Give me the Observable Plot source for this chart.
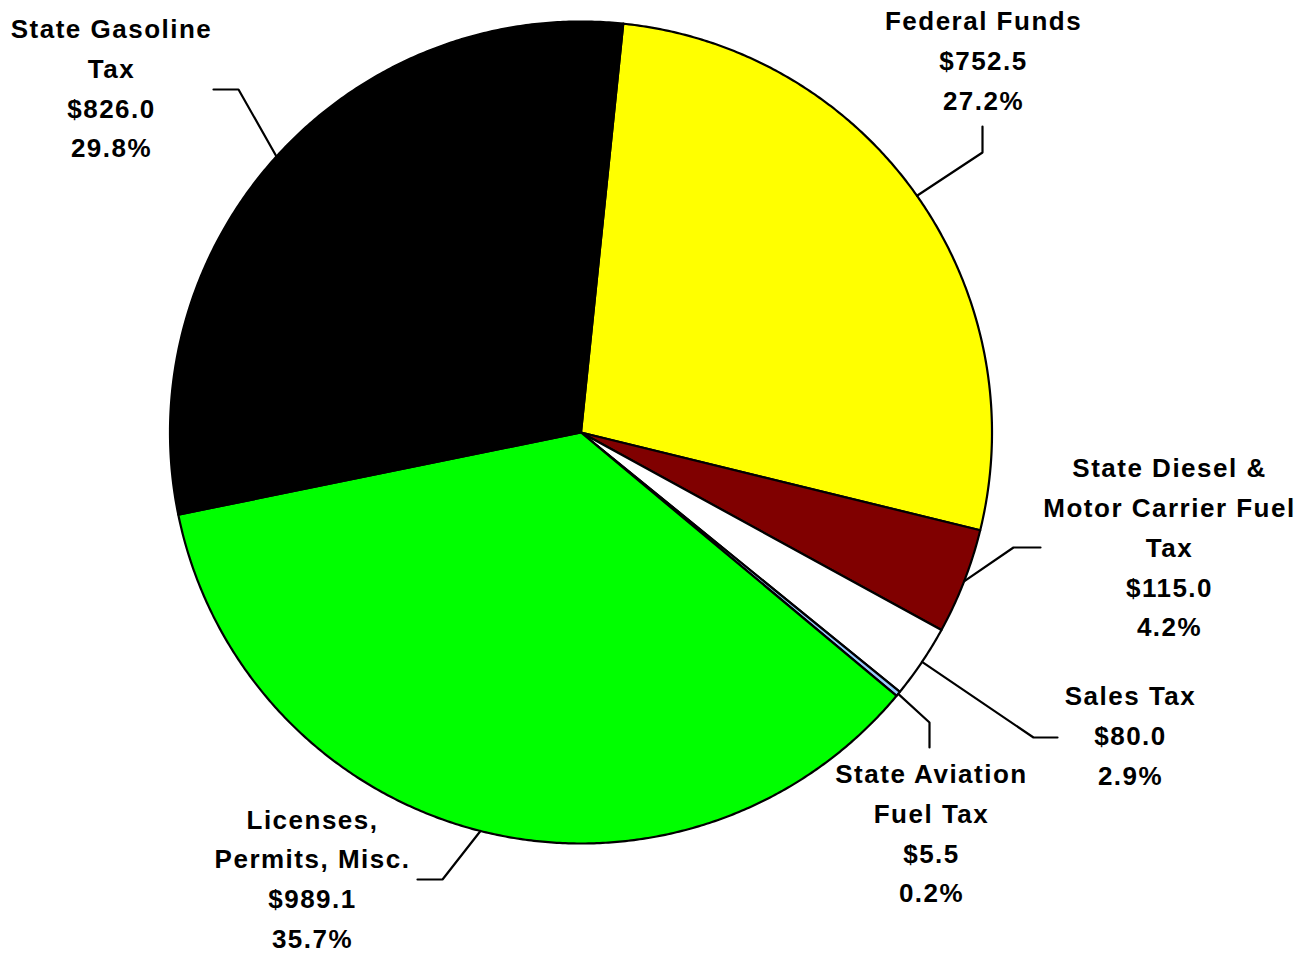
<!DOCTYPE html>
<html><head><meta charset="utf-8">
<script src="https://cdn.jsdelivr.net/npm/d3@7"></script>
<script src="https://cdn.jsdelivr.net/npm/@observablehq/plot@0.6"></script>
<style>
body{margin:0;background:#fff}
#chart svg text{letter-spacing:1.5px}
</style>
</head><body><div id="chart"></div>
<script>
// ---- data ----
const categories = ["Federal Funds", "State Diesel &\nMotor Carrier Fuel\nTax", "Sales Tax", "State Aviation\nFuel Tax", "Licenses,\nPermits, Misc.", "State Gasoline\nTax"];
const values = [752.5, 115.0, 80.0, 5.5, 989.1, 826.0];
const percents = ["27.2%", "4.2%", "2.9%", "0.2%", "35.7%", "29.8%"];
const colors = ["#FFFF00", "#800000", "#FFFFFF", "#99CCFF", "#00FF00", "#000000"];

// ---- layout ----
const W = 1309, H = 954;
const cx = 580.5, cy = 432, R = 411;
const startDeg = 5.9;
// label layout: text block centre, leader elbow, leader end
const labelLayout = [
  {tx: 983,  ty: 56.5,  elbow: [982, 152],  end: [982, 126]},
  {tx: 1169, ty: 543.5, elbow: [1013, 547], end: [1040, 547]},
  {tx: 1130, ty: 732,   elbow: [1033, 737], end: [1057, 737]},
  {tx: 931,  ty: 829.5, elbow: [929, 722],  end: [929, 747]},
  {tx: 312,  ty: 875,   elbow: [442, 879],  end: [417, 879]},
  {tx: 111,  ty: 84.5,  elbow: [238, 89],   end: [213, 89]}
];

const arcs = d3.pie().sort(null).startAngle(startDeg * Math.PI / 180)
  .endAngle(startDeg * Math.PI / 180 + 2 * Math.PI)(values);

const pt = (a, r) => [cx + r * Math.sin(a), cy - r * Math.cos(a)];

const slicePts = [];
arcs.forEach((a, i) => {
  const n = Math.max(2, Math.ceil((a.endAngle - a.startAngle) / (0.4 * Math.PI / 180)));
  slicePts.push({id: i, x: cx, y: cy, fill: colors[i]});
  for (let k = 0; k <= n; k++) {
    const t = a.startAngle + (a.endAngle - a.startAngle) * k / n;
    const [x, y] = pt(t, R);
    slicePts.push({id: i, x, y, fill: colors[i]});
  }
  slicePts.push({id: i, x: cx, y: cy, fill: colors[i]});
});

const leaderPts = [];
arcs.forEach((a, i) => {
  const mid = (a.startAngle + a.endAngle) / 2;
  const [x0, y0] = pt(mid, R);
  const L = labelLayout[i];
  leaderPts.push({id: i, x: x0, y: y0});
  leaderPts.push({id: i, x: L.elbow[0], y: L.elbow[1]});
  leaderPts.push({id: i, x: L.end[0], y: L.end[1]});
});

const labels = categories.map((c, i) => ({
  x: labelLayout[i].tx, y: labelLayout[i].ty,
  text: c + "\n$" + values[i].toFixed(1) + "\n" + percents[i]
}));

const chart = Plot.plot({
  width: W, height: H,
  margin: 0,
  x: {domain: [0, W], range: [0, W], axis: null},
  y: {domain: [0, H], range: [0, H], axis: null},
  color: {type: "identity"},
  style: {background: "#fff"},
  marks: [
    Plot.line(slicePts, {x: "x", y: "y", z: "id", fill: "fill", stroke: "#000", strokeWidth: 2.2, strokeLinejoin: "round", curve: "linear"}),
    Plot.line(leaderPts, {x: "x", y: "y", z: "id", stroke: "#000", strokeWidth: 2.2, strokeLinejoin: "miter"}),
    Plot.text(labels, {x: "x", y: "y", text: "text", textAnchor: "middle", lineAnchor: "middle", lineHeight: 1.53,
      fontSize: 26, fontWeight: "bold", fontFamily: "Liberation Sans, Arial, sans-serif", fill: "#000"})
  ]
});
document.getElementById("chart").appendChild(chart);
</script>
</body></html>
